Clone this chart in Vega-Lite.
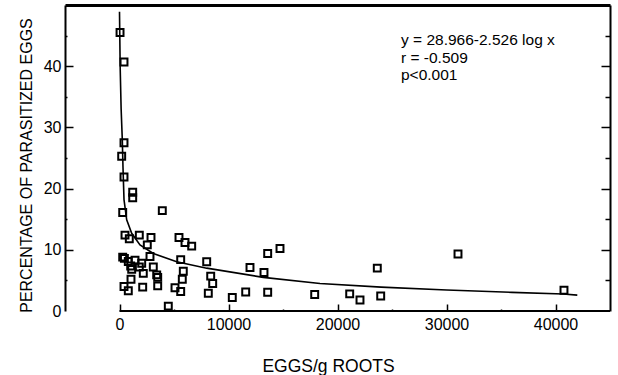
{
  "$schema": "https://vega.github.io/schema/vega-lite/v6.json",
  "width": 545,
  "height": 306,
  "autosize": "none",
  "padding": {"left": 65, "top": 5, "right": 8, "bottom": 64},
  "background": "white",
  "config": {
    "view": {"stroke": null},
    "font": "Liberation Sans",
    "axis": {"grid": false, "domainColor": "black", "tickColor": "black", "labelColor": "black", "titleColor": "black", "labelFont": "Liberation Sans", "titleFont": "Liberation Sans", "titleFontWeight": "normal", "labelFontSize": 16, "titleFontSize": 15}
  },
  "datasets": {
    "pts": [
      {"x": 50, "y": 45.5}, {"x": 413, "y": 40.7}, {"x": 413, "y": 27.5}, {"x": 200, "y": 25.3},
      {"x": 413, "y": 21.9}, {"x": 1211, "y": 19.4}, {"x": 1211, "y": 18.5}, {"x": 294, "y": 16.1},
      {"x": 3927, "y": 16.4}, {"x": 505, "y": 12.4}, {"x": 899, "y": 11.8}, {"x": 1817, "y": 12.4},
      {"x": 2890, "y": 12.0}, {"x": 2550, "y": 10.8}, {"x": 5458, "y": 12.0}, {"x": 6009, "y": 11.2},
      {"x": 6623, "y": 10.6}, {"x": 294, "y": 8.8}, {"x": 450, "y": 8.6}, {"x": 807, "y": 8.1},
      {"x": 1422, "y": 8.3}, {"x": 2037, "y": 7.8}, {"x": 1027, "y": 7.35}, {"x": 1817, "y": 7.2},
      {"x": 2798, "y": 8.9}, {"x": 3101, "y": 7.2}, {"x": 2183, "y": 6.15}, {"x": 1119, "y": 6.8},
      {"x": 3413, "y": 5.9}, {"x": 3505, "y": 5.5}, {"x": 3505, "y": 4.1}, {"x": 1055, "y": 5.2},
      {"x": 413, "y": 4.0}, {"x": 807, "y": 3.3}, {"x": 2128, "y": 3.9}, {"x": 5614, "y": 8.4},
      {"x": 5853, "y": 6.5}, {"x": 5761, "y": 5.2}, {"x": 5092, "y": 3.8}, {"x": 5614, "y": 3.2},
      {"x": 4477, "y": 0.8}, {"x": 8000, "y": 8.05}, {"x": 8367, "y": 5.7}, {"x": 8550, "y": 4.5},
      {"x": 8147, "y": 2.9}, {"x": 10348, "y": 2.2}, {"x": 11578, "y": 3.1}, {"x": 11972, "y": 7.1},
      {"x": 13256, "y": 6.3}, {"x": 13595, "y": 9.4}, {"x": 13595, "y": 3.05}, {"x": 14725, "y": 10.2},
      {"x": 17908, "y": 2.7}, {"x": 21119, "y": 2.8}, {"x": 22064, "y": 1.8}, {"x": 23963, "y": 2.45},
      {"x": 23651, "y": 7.0}, {"x": 31055, "y": 9.3}, {"x": 40778, "y": 3.4}
    ],
    "curve": [
      {"x": 0, "y": 48.9}, {"x": 60, "y": 40}, {"x": 150, "y": 33}, {"x": 257, "y": 28},
      {"x": 320, "y": 23.5}, {"x": 413, "y": 18.2}, {"x": 660, "y": 14.9}, {"x": 1119, "y": 12.7},
      {"x": 1881, "y": 10.8}, {"x": 3101, "y": 9.4}, {"x": 5247, "y": 8.05}, {"x": 8000, "y": 7.0},
      {"x": 13192, "y": 5.5}, {"x": 18394, "y": 4.5}, {"x": 24000, "y": 3.9}, {"x": 30018, "y": 3.43},
      {"x": 36000, "y": 3.05}, {"x": 40713, "y": 2.78}, {"x": 42000, "y": 2.6}
    ],
    "notes": [
      {"x": 25825, "y": 44.3, "t": "y = 28.966-2.526  log x"},
      {"x": 25825, "y": 41.3, "t": "r = -0.509"},
      {"x": 25825, "y": 38.6, "t": "p<0.001"}
    ],
    "base": [{"x": 0, "x2": 45000, "y": 0}]
  },
  "layer": [
    {
      "data": {"name": "base"},
      "mark": {"type": "rule", "color": "black", "strokeWidth": 2},
      "encoding": {
        "x": {"field": "x", "type": "quantitative", "scale": {"domain": [-5000, 45000], "nice": false, "zero": false},
          "axis": {"orient": "bottom", "domain": false, "values": [0, 5000, 10000, 15000, 20000, 25000, 30000, 35000, 40000],
            "labelExpr": "datum.value % 10000 === 0 ? format(datum.value, 'd') : ''",
            "tickSize": {"condition": {"test": "datum.value % 10000 === 0", "value": -7}, "value": -2},
            "tickWidth": 1.5, "labelPadding": 12,
            "title": "EGGS/g ROOTS", "titleFontSize": 17.5, "titlePadding": 25, "titleX": 263}},
        "x2": {"field": "x2"},
        "y": {"field": "y", "type": "quantitative", "scale": {"domain": [0, 50], "nice": false},
          "axis": {"orient": "left", "domainWidth": 2, "values": [0, 10, 20, 30, 40],
            "ticks": false, "labelPadding": 4,
            "title": "PERCENTAGE OF PARASITIZED EGGS", "titleFontSize": 16, "titlePadding": 9, "titleY": 160}}
      }
    },
    {
      "data": {"name": "curve"},
      "mark": {"type": "line", "color": "black", "strokeWidth": 1.6},
      "encoding": {
        "x": {"field": "x", "type": "quantitative", "scale": {"domain": [-5000, 45000], "nice": false, "zero": false},
          "axis": {"orient": "top", "domainWidth": 3, "ticks": false, "labels": false, "title": null}},
        "y": {"field": "y", "type": "quantitative", "scale": {"domain": [0, 50], "nice": false},
          "axis": {"orient": "right", "domainWidth": 2, "labels": false, "title": null,
            "values": [5, 10, 15, 20, 25, 30, 35, 40, 45],
            "tickSize": {"condition": {"test": "datum.value % 10 === 0", "value": -9}, "value": -5},
            "tickWidth": 1.5}}
      }
    },
    {
      "data": {"name": "pts"},
      "mark": {"type": "point", "shape": "square", "filled": false, "color": "black", "strokeWidth": 2, "size": 48, "opacity": 1},
      "encoding": {
        "x": {"field": "x", "type": "quantitative", "axis": null},
        "y": {"field": "y", "type": "quantitative",
          "axis": {"orient": "left", "offset": 0, "domain": false, "labels": false, "title": null,
            "values": [5, 10, 15, 20, 25, 30, 35, 40, 45],
            "tickSize": {"condition": {"test": "datum.value % 10 === 0", "value": -8}, "value": -2},
            "tickWidth": 1.5}}
      }
    },
    {
      "data": {"name": "notes"},
      "mark": {"type": "text", "align": "left", "baseline": "middle", "fontSize": 15.5, "color": "black", "font": "Liberation Sans"},
      "encoding": {
        "x": {"field": "x", "type": "quantitative", "axis": null},
        "y": {"field": "y", "type": "quantitative", "axis": null},
        "text": {"field": "t"}
      }
    }
  ],
  "resolve": {"axis": {"x": "independent", "y": "independent"}}
}
